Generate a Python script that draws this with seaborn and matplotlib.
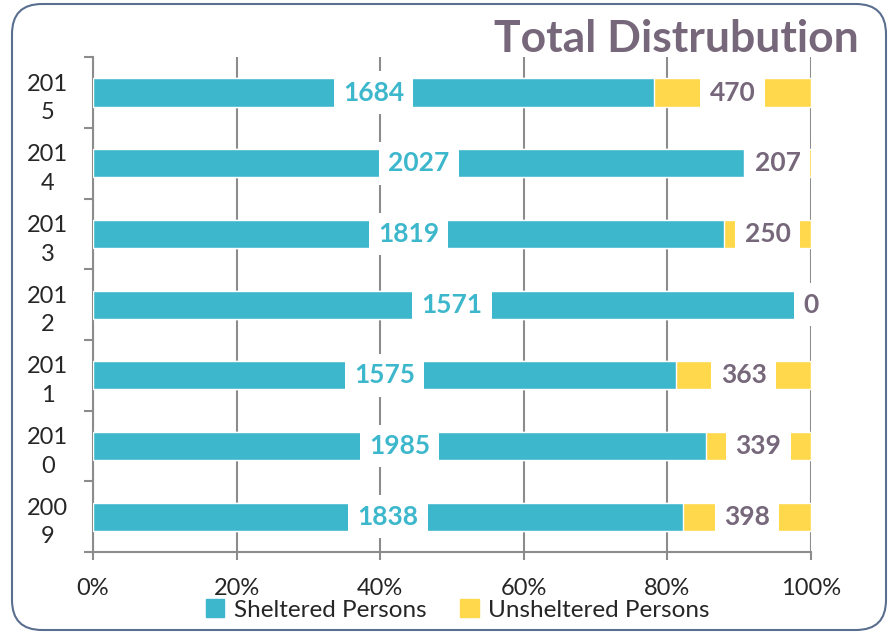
import numpy as np
import pandas as pd
import matplotlib.pyplot as plt
import seaborn as sns
from matplotlib.patches import FancyBboxPatch, Patch

years = ["2015", "2014", "2013", "2012", "2011", "2010", "2009"]
sheltered = [1684, 2027, 1819, 1571, 1575, 1985, 1838]
unsheltered = [470, 207, 250, 0, 363, 339, 398]
x_ticks = [0, 0.2, 0.4, 0.6, 0.8, 1.0]
x_labels = ["0%", "20%", "40%", "60%", "80%", "100%"]

TEAL = "#3DB7CC"
YELLOW = "#FFD84B"
PURPLE = "#76677A"
GRID = "#8C8C8C"

df = pd.DataFrame({"year": years, "sheltered": sheltered, "unsheltered": unsheltered})
df["total"] = df["sheltered"] + df["unsheltered"]
df["sh_share"] = df["sheltered"] / df["total"]
df["full"] = 1.0
df["label"] = [y[:3] + "\n" + y[3:] for y in df["year"]]

sns.set_theme(style="white")
plt.rcParams["font.family"] = ["Lato", "DejaVu Sans"]

fig = plt.figure(figsize=(8.94, 6.36), dpi=100)
ax = fig.add_axes([0.104, 0.132, 0.803, 0.778])

# stacked 100% bars: full yellow bar underneath, teal share on top
sns.barplot(data=df, x="full", y="label", color=YELLOW, saturation=1,
            width=0.4, errorbar=None, ax=ax, zorder=2)
sns.barplot(data=df, x="sh_share", y="label", color=TEAL, saturation=1,
            width=0.4, errorbar=None, ax=ax, zorder=3)

ax.set_xlim(0, 1)
ax.set_ylim(6.5, -0.5)
ax.set_xlabel("")
ax.set_ylabel("")

# value labels on white boxes
box = dict(boxstyle="square,pad=0.35", facecolor="white", edgecolor="none")
for i, row in df.iterrows():
    ax.text(row["sh_share"] / 2, i, str(row["sheltered"]), ha="center", va="center",
            fontsize=19, fontweight="bold", color=TEAL, bbox=box, zorder=5)
    ax.text((row["sh_share"] + 1) / 2, i, str(row["unsheltered"]), ha="center", va="center",
            fontsize=19, fontweight="bold", color=PURPLE, bbox=box, zorder=5)

# axes styling
ax.set_xticks(x_ticks, labels=x_labels)
ax.xaxis.grid(True, color=GRID, linewidth=1.5, zorder=1)
ax.set_axisbelow(True)
ax.tick_params(axis="x", direction="out", length=6, width=1.5, color=GRID,
               labelsize=17, pad=13, bottom=True)

ax.set_yticks(np.arange(-0.5, 7, 1), labels=[""] * 8)
ax.set_yticks(range(len(years)), labels=df["label"], minor=True)
ax.tick_params(axis="y", which="major", direction="out", length=6.5, width=1.5,
               color=GRID, left=True)
ax.tick_params(axis="y", which="minor", length=0, pad=32.5, labelsize=17)
for lab in ax.get_yticklabels(minor=True):
    lab.set_horizontalalignment("center")
    lab.set_multialignment("center")
    lab.set_linespacing(1.45)

for side in ["top", "right"]:
    ax.spines[side].set_visible(False)
for side in ["left", "bottom"]:
    ax.spines[side].set_color(GRID)
    ax.spines[side].set_linewidth(1.5)

# legend
handles = [Patch(color=TEAL, label="Sheltered Persons"),
           Patch(color=YELLOW, label="Unsheltered Persons")]
fig.legend(handles=handles, loc="center", bbox_to_anchor=(0.512, 0.041), ncol=2,
           frameon=False, fontsize=17.5, handlelength=0.75, handleheight=0.75,
           handletextpad=0.4, columnspacing=1.4)

fig.text(0.961, 0.938, "Total Distrubution", ha="right", va="center",
         fontsize=32, fontweight="bold", color=PURPLE)

# rounded outer border
border = FancyBboxPatch((0.12, 0.06), 8.74, 6.26, boxstyle="round,pad=0,rounding_size=0.3",
                        transform=fig.dpi_scale_trans, facecolor="none",
                        edgecolor="#5A6E8F", linewidth=1.5, clip_on=False)
fig.add_artist(border)

fig.savefig("out.png", dpi=100)
